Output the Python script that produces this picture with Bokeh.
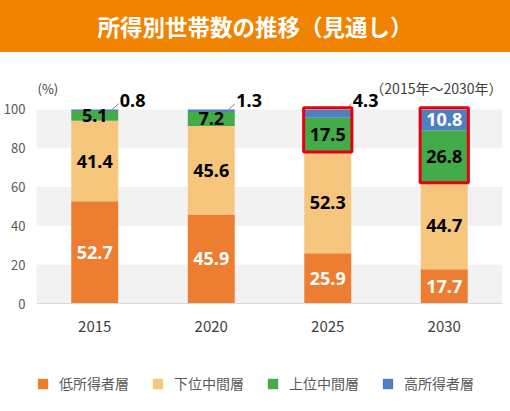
from bokeh.plotting import figure
from bokeh.models import (Range1d, FixedTicker, BoxAnnotation, Legend, LegendItem,
                          Div, ColumnDataSource, Label)
from bokeh.layouts import column
from bokeh.embed import file_html
from bokeh.resources import INLINE
from bokeh.core.properties import value

# ---------------- data ----------------
title_text = "所得別世帯数の推移（見通し）"
years = ["2015", "2020", "2025", "2030"]
series_names = ["低所得者層", "下位中間層", "上位中間層", "高所得者層"]
low = [52.7, 45.9, 25.9, 17.7]
lower_mid = [41.4, 45.6, 52.3, 44.7]
upper_mid = [5.1, 7.2, 17.5, 26.8]
high = [0.8, 1.3, 4.3, 10.8]
y_ticks = [0, 20, 40, 60, 80, 100]
unit_label = "(%)"
period_label = "（2015年～2030年）"
highlight_years = ["2025", "2030"]

# ---------------- styles ----------------
colors = ["#ED7D31", "#F5C67B", "#43AB48", "#4F80BE"]
text_colors = ["white", "black", "black", "white"]
JP = "Noto Sans CJK JP"
NUM = "Noto Sans"
BAR_W = 0.403

xs = list(range(len(years)))
series = [low, lower_mid, upper_mid, high]
keys = ["s0", "s1", "s2", "s3"]
src = ColumnDataSource(dict(x=xs, **{k: v for k, v in zip(keys, series)}))

p = figure(width=510, height=288, x_range=Range1d(-0.5, len(years) - 0.5),
           y_range=Range1d(0, 114.9), output_backend="svg", toolbar_location=None,
           min_border_left=36, min_border_right=8, min_border_top=28,
           min_border_bottom=37, outline_line_color=None)
p.background_fill_color = "white"
p.border_fill_color = "white"
p.xgrid.visible = False
p.ygrid.visible = False

# alternating bands
for lo in y_ticks[:-1:2]:
    p.add_layout(BoxAnnotation(bottom=lo, top=lo + 20, fill_color="#F2F2F2",
                               fill_alpha=1, line_color=None, level="underlay"))

rs = p.vbar_stack(keys, x="x", width=BAR_W, color=colors, line_color=None, source=src)

# value labels
lx, ly, lt, lc = [], [], [], []
ox, ot = [], []
for i in xs:
    base = 0.0
    for s, vals in enumerate(series):
        v = vals[i]
        if v < 5 and s == 3:
            ox.append(i)
            ot.append(f"{v:.1f}")
        else:
            lx.append(i)
            ly.append(base + v / 2)
            lt.append(f"{v:.1f}")
            lc.append(text_colors[s])
        base += v

p.text(x=lx, y=ly, text=lt, text_color=lc, text_align="center", text_baseline="middle",
       text_font=value(NUM), text_font_style="bold", text_font_size="18px")

# outside labels with leaders
p.segment(x0=[i + 0.15 for i in ox], y0=[100] * len(ox),
          x1=[i + 0.204 for i in ox], y1=[102.9] * len(ox),
          line_color="#808080", line_width=1)
p.text(x=[i + 0.215 for i in ox], y=[104.7] * len(ox), text=ot, text_color="black",
       text_align="left", text_baseline="middle", text_font=value(NUM),
       text_font_style="bold", text_font_size="18px")

# highlight boxes
hx = [years.index(y) for y in highlight_years]
p.quad(left=[i - 0.207 for i in hx], right=[i + 0.207 for i in hx],
       bottom=[low[i] + lower_mid[i] - 0.2 for i in hx], top=[100.8] * len(hx),
       fill_color=None, line_color="#E60012", line_width=3)

# axes
p.yaxis.ticker = FixedTicker(ticks=y_ticks)
p.yaxis.axis_line_color = None
p.yaxis.major_tick_line_color = None
p.yaxis.minor_tick_line_color = None
p.yaxis.major_label_standoff = 5
p.yaxis.major_label_text_font = JP
p.yaxis.major_label_text_font_size = "13px"
p.yaxis.major_label_text_color = "#595959"

p.xaxis.ticker = FixedTicker(ticks=xs)
p.xaxis.major_label_overrides = {i: y for i, y in zip(xs, years)}
p.xaxis.axis_line_color = "#D9D9D9"
p.xaxis.axis_line_width = 1
p.xaxis.major_tick_line_color = None
p.xaxis.minor_tick_line_color = None
p.xaxis.major_label_standoff = 11
p.xaxis.major_label_text_font = JP
p.xaxis.major_label_text_font_size = "15px"
p.xaxis.major_label_text_color = "#404040"

p.add_layout(Label(x=-0.5, y=110.8, text=unit_label, text_align="left",
                   text_baseline="middle", text_font=JP, text_font_size="13px",
                   text_color="#404040", x_offset=1))
p.add_layout(Label(x=len(years) - 0.5, y=110.8, text=period_label, text_align="right",
                   text_baseline="middle", text_font=JP, text_font_size="14px",
                   text_color="#404040"))

# ---------------- legend strip ----------------
lg = figure(width=510, height=71, x_range=Range1d(0, 1), y_range=Range1d(0, 1),
            output_backend="svg", toolbar_location=None, x_axis_type=None,
            y_axis_type=None, min_border=0, min_border_left=36, min_border_right=8,
            outline_line_color=None)
lg.xgrid.visible = False
lg.ygrid.visible = False
# zero-height proxies, used only as legend swatches
swatches = [lg.vbar(x=[0.5], top=[0], bottom=[0], width=0.1, fill_color=c,
                    line_color=None) for c in colors]
legend = Legend(items=[LegendItem(label=n, renderers=[r]) for n, r in zip(series_names, swatches)],
                orientation="horizontal", location=(0, 18), padding=0, margin=0,
                border_line_color=None, background_fill_alpha=0,
                glyph_width=13, glyph_height=13, label_standoff=10, spacing=22,
                label_text_font=JP, label_text_font_size="14px",
                label_text_color="#595959")
lg.add_layout(legend, "center")

banner = Div(text=title_text, width=510, height=52, margin=0,
             styles={"background-color": "#F08300", "color": "white",
                     "font-size": "22.5px", "font-weight": "bold",
                     "font-family": JP, "text-align": "center",
                     "line-height": "52px", "display": "block"})

layout = column(banner, p, lg, spacing=0)
html = file_html(layout, INLINE)
html = html.replace("<head>", "<head><style>html,body{margin:0;padding:0;}</style>", 1)
open("out.html", "w").write(html)
